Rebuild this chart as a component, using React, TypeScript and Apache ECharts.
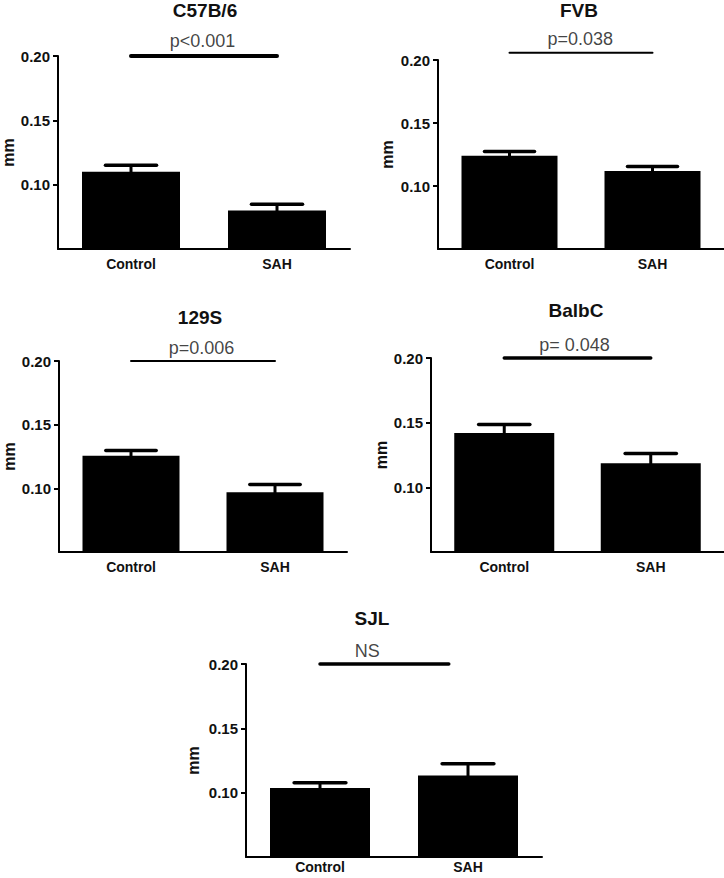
import React, { useEffect, useRef } from "react";
import * as echarts from "echarts";

// ---- Data ----
const categories = ["Control", "SAH"];
const strains = ["C57B/6", "FVB", "129S", "BalbC", "SJL"];

const meanC57 = [0.110, 0.080];
const errC57 = [0.005, 0.0047];
const meanFVB = [0.124, 0.112];
const errFVB = [0.0033, 0.0035];
const mean129S = [0.1255, 0.097];
const err129S = [0.0043, 0.006];
const meanBalbC = [0.142, 0.1187];
const errBalbC = [0.0065, 0.0075];
const meanSJL = [0.1036, 0.1134];
const errSJL = [0.0042, 0.009];

const pLabels = ["p<0.001", "p=0.038", "p=0.006", "p= 0.048", "NS"];
const sigLevels = [0.2, 0.2058, 0.2, 0.2, 0.2];

const yMin = 0.05;
const yMax = 0.2;
const yStep = 0.05;
const yTickLabels = [0.1, 0.15, 0.2];

const means = [meanC57, meanFVB, mean129S, meanBalbC, meanSJL];
const errs = [errC57, errFVB, err129S, errBalbC, errSJL];

// ---- Layout (pixels) ----
const FONT = "'Liberation Sans', Arial, Helvetica, sans-serif";
const grids = [
  { left: 58, top: 56, width: 292, height: 193 },
  { left: 438, top: 60, width: 286, height: 189 },
  { left: 59, top: 361, width: 288, height: 191 },
  { left: 431, top: 358, width: 293, height: 194 },
  { left: 246, top: 664, width: 296, height: 193 },
];
const titlePos = [
  [205, 10],
  [579, 10],
  [200, 317],
  [576, 310],
  [372, 618],
];
const barWidths = [98, 96, 97, 100, 100];
const nameGaps = [37, 43, 38, 39, 45];
const xLabelMargins = [8, 8, 8, 8, 3];
const sigSpan = [
  [0, 1],
  [0, 1],
  [0, 1],
  [0, 1],
  [0, 0.87],
];
const sigTextX = [0.49, 0.495, 0.49, 0.48, 0.32];
const sigTextDist = [6, 4, 4, 4, 4];
const sigWidth = [4, 2, 2, 3.5, 3.5];

function buildOption() {
  const xAxis: any[] = [];
  const yAxis: any[] = [];
  const series: any[] = [];
  const graphic: any[] = [];

  strains.forEach((name, i) => {
    xAxis.push({
      gridIndex: i,
      type: "category",
      data: categories,
      axisLine: { onZero: false, lineStyle: { color: "#000", width: 2 } },
      axisTick: { alignWithLabel: true, length: 5, lineStyle: { color: "#000", width: 2 } },
      axisLabel: {
        margin: xLabelMargins[i],
        fontSize: 14,
        fontWeight: "bold",
        color: "#111",
        fontFamily: FONT,
      },
      splitLine: { show: false },
    });
    xAxis.push({
      gridIndex: i,
      type: "value",
      min: -0.5,
      max: 1.5,
      show: false,
      axisLine: { onZero: false },
    });

    yAxis.push({
      gridIndex: i,
      type: "value",
      min: yMin,
      max: yMax,
      interval: yStep,
      name: "mm",
      nameLocation: "middle",
      nameGap: nameGaps[i],
      nameTextStyle: { fontSize: 16, fontWeight: "bold", color: "#111", fontFamily: FONT },
      axisLine: { show: true, onZero: false, lineStyle: { color: "#000", width: 2 } },
      axisTick: { show: true, length: 5, lineStyle: { color: "#000", width: 2 }, customValues: yTickLabels },
      axisLabel: {
        margin: 8,
        fontSize: 15,
        fontWeight: "bold",
        color: "#111",
        fontFamily: FONT,
        customValues: yTickLabels,
        formatter: (v: number) => (Math.abs(v - yMin) < 1e-9 ? "" : v.toFixed(2)),
      },
      splitLine: { show: false },
    });

    series.push({
      type: "bar",
      xAxisIndex: 2 * i,
      yAxisIndex: i,
      data: means[i],
      barWidth: barWidths[i],
      itemStyle: { color: "#000" },
      silent: true,
      z: 2,
    });

    series.push({
      type: "custom",
      xAxisIndex: 2 * i,
      yAxisIndex: i,
      data: means[i].map((m, k) => [k, m, errs[i][k]]),
      encode: { x: 0, y: 1 },
      silent: true,
      z: 3,
      renderItem: (params: any, api: any) => {
        const x = api.value(0);
        const m = api.value(1);
        const e = api.value(2);
        const base = api.coord([x, m]);
        const top = api.coord([x, m + e]);
        const half = api.size([1, 0])[0] * 0.175;
        return {
          type: "group",
          children: [
            {
              type: "line",
              shape: { x1: base[0], y1: base[1] + 2, x2: top[0], y2: top[1] },
              style: { stroke: "#000", lineWidth: 3 },
            },
            {
              type: "line",
              shape: { x1: top[0] - half, y1: top[1], x2: top[0] + half, y2: top[1] },
              style: { stroke: "#000", lineWidth: 3.5, lineCap: "round" },
            },
          ],
        };
      },
    });

    series.push({
      type: "line",
      xAxisIndex: 2 * i + 1,
      yAxisIndex: i,
      data: [
        [sigSpan[i][0], sigLevels[i]],
        [sigSpan[i][1], sigLevels[i]],
      ],
      showSymbol: false,
      symbol: "none",
      clip: false,
      silent: true,
      lineStyle: { color: "#000", width: sigWidth[i], cap: "round" },
      z: 4,
    });

    series.push({
      type: "scatter",
      xAxisIndex: 2 * i + 1,
      yAxisIndex: i,
      data: [[sigTextX[i], sigLevels[i]]],
      symbolSize: 1,
      clip: false,
      silent: true,
      itemStyle: { color: "rgba(0,0,0,0)" },
      label: {
        show: true,
        position: "top",
        distance: sigTextDist[i],
        formatter: pLabels[i],
        fontSize: 18,
        color: "#111",
        fontFamily: FONT,
      },
      z: 5,
    });

    graphic.push({
      type: "text",
      x: titlePos[i][0],
      y: titlePos[i][1],
      style: {
        text: name,
        fontSize: 19,
        fontWeight: "bold",
        fontFamily: FONT,
        fill: "#111",
        textAlign: "center",
        textVerticalAlign: "middle",
      },
    });
  });

  return {
    animation: false,
    backgroundColor: "#fff",
    grid: grids.map((g) => ({ ...g, containLabel: false, outerBoundsMode: "none" })),
    xAxis,
    yAxis,
    series,
    graphic,
  };
}

export default function App() {
  const ref = useRef<HTMLDivElement>(null);
  useEffect(() => {
    if (!ref.current) return;
    const chart = echarts.init(ref.current, undefined, { renderer: "svg" });
    chart.setOption(buildOption() as any);
    return () => chart.dispose();
  }, []);
  return (
    <div
      ref={ref}
      style={{ position: "absolute", left: 0, top: 0, width: 724, height: 878, background: "#fff" }}
    />
  );
}
